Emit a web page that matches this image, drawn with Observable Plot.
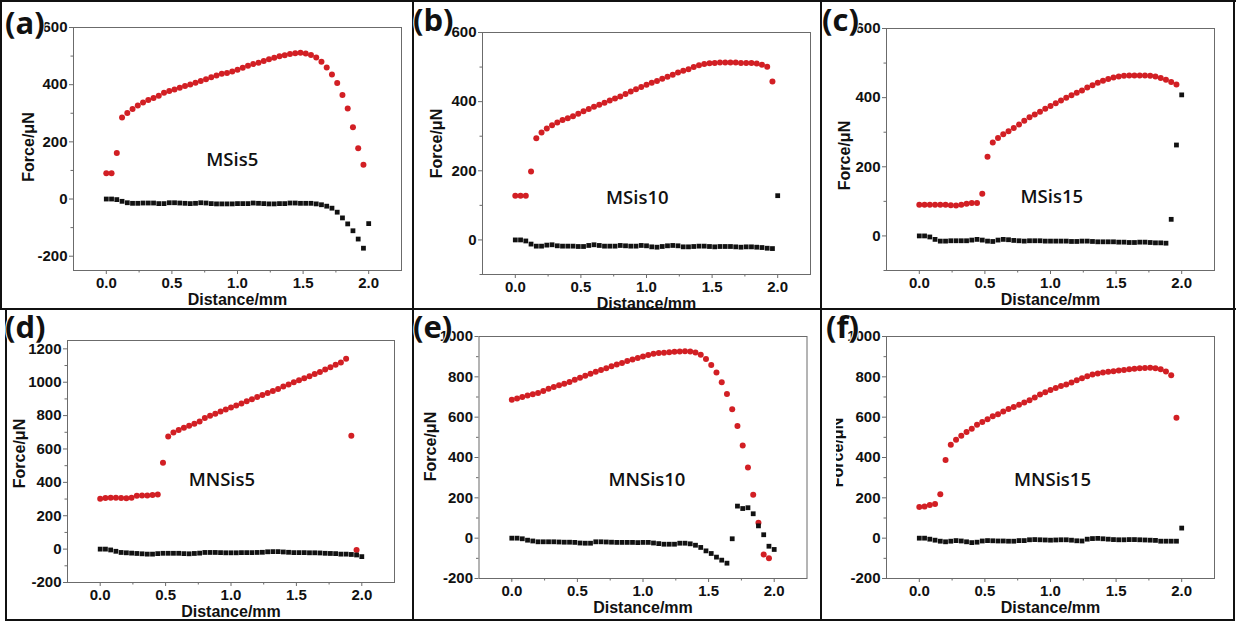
<!DOCTYPE html>
<html>
<head>
<meta charset="utf-8">
<script src="https://cdn.jsdelivr.net/npm/d3@7"></script>
<script src="https://cdn.jsdelivr.net/npm/@observablehq/plot@0.6"></script>
<style>
  html, body { margin: 0; padding: 0; background: #fff; }
  #fig { position: relative; width: 1236px; height: 624px; overflow: hidden; background: #fff; }
  .cell { position: absolute; overflow: hidden; }
  .rule { position: absolute; background: #111; }
  #letters { position: absolute; left: 0; top: 0; pointer-events: none; }
</style>
</head>
<body>
<div id="fig"></div>
<script>
// ---------- DATA ----------
const distance = [0.00,0.04,0.08,0.12,0.16,0.20,0.24,0.28,0.32,0.36,0.40,0.44,0.48,0.52,0.56,0.60,0.64,0.68,0.72,0.76,0.80,0.84,0.88,0.92,0.96,1.00,1.04,1.08,1.12,1.16,1.20,1.24,1.28,1.32,1.36,1.40,1.44,1.48,1.52,1.56,1.60,1.64,1.68,1.72,1.76,1.80,1.84,1.88,1.92,1.96,2.00];

const panelLetters = ["(a)","(b)","(c)","(d)","(e)","(f)"];
const sampleNames = ["MSis5","MSis10","MSis15","MNSis5","MNSis10","MNSis15"];
const sampleNameX = [0.96, 0.93, 1.01, 0.93, 1.03, 1.015];
const sampleNameY = [135, 122, 111, 411, 290, 290];

const xTicks = [0, 0.5, 1, 1.5, 2];
const xMinorTicks = [0.25, 0.75, 1.25, 1.75];
const yTicksA = [-200, 0, 200, 400, 600];
const yTicksBC = [0, 200, 400, 600];
const yTicksD = [-200, 0, 200, 400, 600, 800, 1000, 1200];
const yTicksEF = [-200, 0, 200, 400, 600, 800, 1000];
const yMinorA = [-100, 100, 300, 500];
const yMinorBC = [-100, 100, 300, 500];
const yMinorD = [-100, 100, 300, 500, 700, 900, 1100];
const yMinorEF = [-100, 100, 300, 500, 700, 900];
const yDomainA = [-250, 600];
const yDomainBC = [-100, 600];
const yDomainD = [-200, 1250];
const yDomainEF = [-200, 1000];

// red circles (50 points, 0 ... 1.96 mm) and black squares (51 points, 0 ... 2.00 mm)
const redA = [90,90,161,285,301,315,327,338,346,353,361,372,378,383,389,395,401,407,413,419,426,432,438,441,446,452,459,466,472,477,483,489,494,499,503,507,510,512,509,504,495,480,460,436,406,364,317,251,178,120];
const blackA = [0,0,-2,-8,-13,-15,-15,-14,-14,-14,-16,-16,-13,-13,-14,-15,-16,-15,-13,-14,-16,-17,-17,-17,-17,-16,-16,-16,-14,-15,-16,-17,-17,-16,-16,-14,-14,-15,-15,-15,-17,-20,-25,-32,-46,-66,-87,-111,-140,-172,-86];

const redB = [128,128,128,198,294,311,322,332,340,347,352,358,365,372,379,385,391,397,403,409,415,422,429,436,442,449,455,460,466,472,478,484,489,494,500,505,509,511,512,513,513,513,513,512,512,512,510,507,501,458];
const blackB = [0,0,-3,-12,-18,-18,-15,-14,-17,-18,-18,-18,-19,-19,-16,-14,-16,-18,-18,-18,-16,-17,-18,-18,-16,-17,-20,-21,-19,-17,-16,-17,-20,-20,-19,-18,-18,-19,-20,-19,-19,-19,-20,-21,-20,-20,-21,-22,-24,-25,128];

const redC = [90,90,90,90,90,90,89,88,90,93,95,95,122,229,270,283,294,303,312,322,333,343,351,359,368,376,384,392,400,407,414,421,429,436,443,449,454,458,461,463,464,464,464,464,463,461,457,452,445,438];
const blackC = [0,0,-3,-10,-15,-15,-14,-14,-14,-14,-12,-10,-12,-15,-16,-12,-10,-11,-13,-14,-15,-14,-14,-14,-15,-15,-15,-15,-15,-16,-16,-15,-15,-16,-17,-17,-17,-17,-18,-18,-19,-19,-18,-18,-19,-20,-20,-21,48,263,408];

const redD = [302,306,308,308,306,305,308,320,322,322,325,327,518,675,699,713,727,739,751,765,785,799,811,825,837,849,861,873,886,898,912,924,936,948,960,974,986,1000,1012,1024,1036,1050,1062,1076,1090,1104,1118,1140,680,-5];
const blackD = [0,0,-5,-13,-20,-22,-24,-26,-28,-30,-30,-27,-25,-25,-25,-25,-27,-28,-26,-24,-20,-20,-20,-21,-22,-22,-22,-21,-21,-21,-20,-19,-16,-15,-15,-17,-19,-21,-21,-21,-22,-22,-23,-25,-26,-27,-30,-30,-32,-35,-45];

const redE = [686,692,700,708,714,720,730,741,750,758,766,775,785,795,805,815,825,834,843,852,861,869,878,886,894,901,908,914,918,920,922,924,926,927,926,921,909,888,859,821,773,715,639,556,459,351,215,76,-81,-99];
const blackE = [0,0,-3,-10,-14,-18,-18,-18,-18,-19,-20,-20,-21,-24,-25,-25,-18,-18,-19,-20,-21,-21,-21,-21,-22,-21,-21,-24,-27,-30,-30,-30,-25,-25,-28,-35,-46,-63,-76,-94,-109,-124,-3,159,147,151,121,61,17,-40,-56];

const redF = [155,157,165,170,218,388,463,488,508,526,543,562,576,590,604,615,628,640,651,661,673,684,698,712,724,735,745,754,762,772,783,793,803,811,816,821,825,828,831,834,838,840,842,844,845,843,838,826,808,597];
const blackF = [0,0,-5,-10,-15,-18,-15,-12,-14,-18,-22,-20,-14,-12,-13,-14,-14,-15,-15,-12,-12,-8,-7,-8,-9,-10,-9,-8,-8,-10,-13,-14,-5,-2,-1,-3,-5,-7,-8,-8,-7,-7,-8,-9,-10,-11,-15,-15,-15,-15,50];

const redSeries = [redA, redB, redC, redD, redE, redF];
const blackSeries = [blackA, blackB, blackC, blackD, blackE, blackF];
const yDomains = [yDomainA, yDomainBC, yDomainBC, yDomainD, yDomainEF, yDomainEF];
const yTickSets = [yTicksA, yTicksBC, yTicksBC, yTicksD, yTicksEF, yTicksEF];
const yMinorSets = [yMinorA, yMinorBC, yMinorBC, yMinorD, yMinorEF, yMinorEF];

// ---------- LAYOUT (positions / styles) ----------
const layout = [
  {left: 0,   top: 0,   width: 412, height: 310, ml: 73,   mr: 11,   mt: 27, mb: 40, labDx: -45,   labDy: -2},
  {left: 414, top: 0,   width: 407, height: 310, ml: 68,   mr: 11,   mt: 32, mb: 36, labDx: -46,   labDy: -10},
  {left: 822, top: 0,   width: 412, height: 310, ml: 64,   mr: 20,   mt: 28, mb: 40, labDx: -42,   labDy: 6},
  {left: 7,   top: 311, width: 405, height: 308, ml: 60,   mr: 18,   mt: 29, mb: 37, labDx: -48,   labDy: -8},
  {left: 414, top: 311, width: 407, height: 308, ml: 64.5, mr: 14.5, mt: 25, mb: 41, labDx: -48.5, labDy: -11},
  {left: 836, top: 311, width: 398, height: 308, ml: 50,   mr: 20,   mt: 25, mb: 41, labDx: -49,   labDy: -5}
];
const letterPos = [
  {x: 5, y: 34}, {x: 413, y: 31}, {x: 822, y: 31},
  {x: 5, y: 338}, {x: 413, y: 338}, {x: 826, y: 338}
];
const RED = "#d21f24";
const SQUARE = "#111";
const AXIS = "#6b6b6b";
const tickFont = "'Liberation Sans', Arial, sans-serif";

const fig = document.getElementById("fig");

layout.forEach((L, i) => {
  const red = redSeries[i].map((v, k) => ({d: distance[k], f: v}));
  const black = blackSeries[i].map((v, k) => ({d: distance[k], f: v}));
  const chart = Plot.plot({
    width: L.width,
    height: L.height,
    marginLeft: L.ml, marginRight: L.mr, marginTop: L.mt, marginBottom: L.mb,
    x: {domain: [-0.25, 2.25]},
    y: {domain: yDomains[i]},
    style: {fontFamily: tickFont, fontSize: "15px", fontWeight: "bold", color: "#111", background: "transparent"},
    marks: [
      Plot.axisY({ticks: yTickSets[i], tickSize: 4, tickPadding: 2, stroke: AXIS, tickFormat: d => String(d), label: null}),
      Plot.axisY({ticks: yMinorSets[i], tickSize: 2.5, stroke: AXIS, tickFormat: () => "", label: null}),
      Plot.axisX({ticks: xTicks, tickSize: 4, tickPadding: 3, stroke: AXIS, tickFormat: d => d.toFixed(1), label: null}),
      Plot.axisX({ticks: xMinorTicks, tickSize: 2.5, stroke: AXIS, tickFormat: () => "", label: null}),
      Plot.frame({stroke: AXIS, strokeWidth: 1}),
      Plot.dot(red, {x: "d", y: "f", r: 3, fill: RED, stroke: "none"}),
      Plot.dot(black, {x: "d", y: "f", symbol: "square", r: 2.7, fill: SQUARE, stroke: "none"}),
      Plot.text([sampleNames[i]], {x: sampleNameX[i], y: sampleNameY[i], text: d => d,
        fontFamily: "'Open Sans', sans-serif", fontWeight: 600, fontSize: 18.5, fill: "#111"}),
      Plot.text(["Force/μN"], {frameAnchor: "left", text: d => d, textAnchor: "middle", lineAnchor: "middle",
        rotate: -90, dx: L.labDx, dy: L.labDy, fontSize: 16, fontWeight: "bold", fill: "#111"}),
      Plot.text(["Distance/mm"], {frameAnchor: "bottom", text: d => d, textAnchor: "middle", lineAnchor: "middle",
        dy: 29, fontSize: 16, fontWeight: "bold", fill: "#111"})
    ]
  });
  const cell = document.createElement("div");
  cell.className = "cell";
  cell.style.left = L.left + "px";
  cell.style.top = L.top + "px";
  cell.style.width = L.width + "px";
  cell.style.height = L.height + "px";
  cell.appendChild(chart);
  fig.appendChild(cell);
});

// panel border rules
const rules = [
  {x: 0, y: 0, w: 1236, h: 2},
  {x: 0, y: 0, w: 2, h: 310},
  {x: 5, y: 309, w: 2, h: 312},
  {x: 412, y: 0, w: 2, h: 621},
  {x: 820, y: 0, w: 2, h: 621},
  {x: 1233, y: 0, w: 2, h: 621},
  {x: 0, y: 308, w: 1236, h: 2},
  {x: 5, y: 619, w: 1230, h: 2}
];
rules.forEach(r => {
  const d = document.createElement("div");
  d.className = "rule";
  Object.assign(d.style, {left: r.x + "px", top: r.y + "px", width: r.w + "px", height: r.h + "px"});
  fig.appendChild(d);
});

// panel letters
const svg = d3.select(fig).append("svg").attr("id", "letters").attr("width", 1236).attr("height", 624);
svg.selectAll("text").data(panelLetters).join("text")
  .attr("x", (d, i) => letterPos[i].x)
  .attr("y", (d, i) => letterPos[i].y)
  .attr("font-family", "'Open Sans', sans-serif")
  .attr("font-weight", 700)
  .attr("font-size", 31)
  .attr("fill", "#111")
  .attr("stroke", "#fff")
  .attr("stroke-width", 2)
  .attr("paint-order", "stroke")
  .text(d => d);
</script>
</body>
</html>
